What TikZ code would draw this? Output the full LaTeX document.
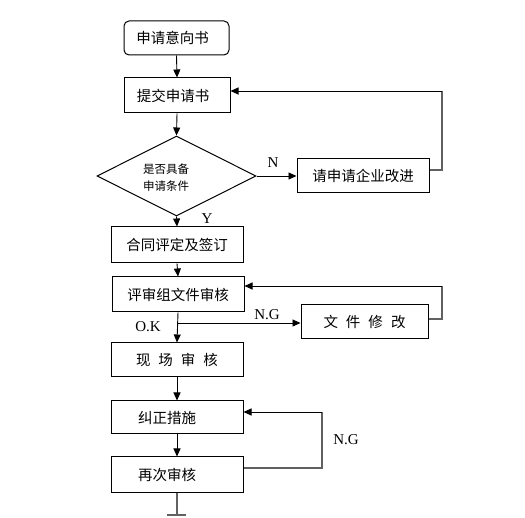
\documentclass[tikz,border=0pt]{standalone}
\usepackage{fontspec}
\newfontfamily\cjk{Noto Sans CJK SC}
\newfontfamily\lab{Liberation Serif}
\usetikzlibrary{arrows.meta,shapes.geometric}
\tikzset{
  box/.style={draw=black, line width=1pt, minimum height=34pt, inner sep=0pt, font=\cjk\fontsize{14.5}{16}\selectfont},
  rbox/.style={box, rounded corners=5pt},
  dia/.style={draw=black, line width=1pt, diamond, inner sep=0pt, minimum width=159pt, minimum height=80pt},
  arr/.style={line width=0.9pt, -{Triangle[width=7pt,length=8pt]}},
  fb/.style={draw=black!62, line width=1.2pt},
  lbl/.style={font=\lab\fontsize{15}{17}\selectfont, text=black, inner sep=0pt}
}
\newcommand{\gs}{\hspace{8pt}}
\begin{document}
\begin{tikzpicture}[x=1pt,y=-1pt]
\useasboundingbox (0,0) rectangle (525,518);
\fill[white] (0,0) rectangle (525,518);
% nodes
\node[rbox, minimum width=105pt] (n1) at (176.5,38) {\hspace{-8pt}申请意向书};
\node[box, minimum width=106pt, minimum height=35pt] (n2) at (177,95.5) {\hspace{-8pt}提交申请书};
\node[dia] (d) at (176.5,176) {};
\node[font=\cjk\fontsize{11.5}{17}\selectfont, align=center, inner sep=0pt] (dt) at (166,178) {是否具备\\申请条件};
\node[box, minimum width=132pt] (n3) at (363,176) {请申请企业改进};
\node[box, minimum width=132pt, minimum height=36pt] (n4) at (177,245) {合同评定及签订};
\node[box, minimum width=132pt, minimum height=35pt] (n5) at (178,294.5) {评审组文件审核};
\node[box, minimum width=127pt] (n6) at (364.5,322) {文\gs 件\gs 修\gs 改};
\node[box, minimum width=132pt] (n7) at (177,360) {现\gs 场\gs 审\gs 核};
\node[box, minimum width=132pt, minimum height=33pt] (n8) at (177,417.5) {\hspace{-20pt}纠正措施};
\node[box, minimum width=132pt, minimum height=35pt] (n9) at (177,474.5) {\hspace{-20pt}再次审核};
% coordinates
\coordinate (r1a) at (442,170);
\coordinate (r1b) at (442,91);
\coordinate (r2a) at (442,319);
\coordinate (r2b) at (442,286);
\coordinate (r3a) at (322,468);
\coordinate (r3b) at (322,412);
\coordinate (br) at (177,323);
\coordinate (bend) at (177,515);
\coordinate (tl) at (167,515);
\coordinate (tr) at (186,515);
% main flow
\draw[arr] (n1.south) -- (n2.north);
\draw[arr] (n2.south) -- (d.north);
\draw[arr] (d.east) -- (n3.west);
\draw[arr] (d.south) -- (n4.north);
\draw[arr] (n4.south) -- (n5.north);
\draw[arr] (n5.south) -- (n7.north);
\draw[arr] (br) -- (br -| n6.west);
\draw[arr] (n7.south) -- (n8.north);
\draw[arr] (n8.south) -- (n9.north);
% feedback loops
\draw[fb] (n3.east |- r1a) -- (r1a) -- (r1b);
\draw[arr] (r1b) -- (r1b -| n2.east);
\draw[fb] (n6.east |- r2a) -- (r2a) -- (r2b);
\draw[arr] (r2b) -- (r2b -| n5.east);
\draw[fb] (n9.east |- r3a) -- (r3a) -- (r3b);
\draw[arr] (r3b) -- (r3b -| n8.east);
% end
\draw[fb] (n9.south) -- (bend);
\draw[fb] (tl) -- (tr);
% labels
\node[lbl] (lN) at (273,163) {N};
\node[lbl] (lY) at (207,219) {Y};
\node[lbl] (lOK) at (148,327) {O.K};
\node[lbl] (lNG1) at (267,315) {N.G};
\node[lbl] (lNG2) at (346,440) {N.G};
\end{tikzpicture}
\end{document}
